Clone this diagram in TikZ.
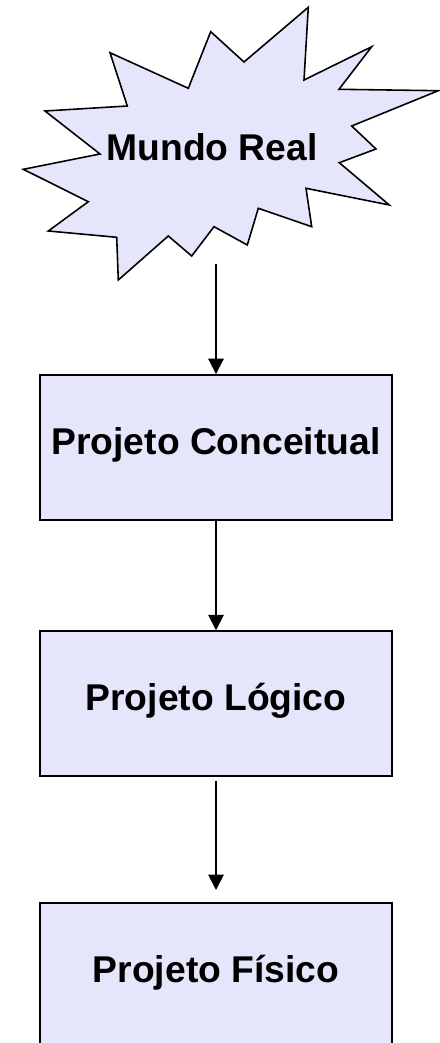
\documentclass[tikz,border=0pt]{standalone}
\usepackage{fontspec}
\setmainfont{Liberation Sans}
\usetikzlibrary{arrows.meta}
\definecolor{lilas}{RGB}{229,229,252}
\tikzset {
    etapa/.style = {
        draw, line width = 1.1pt, fill = lilas,
        minimum width = 7.05cm, minimum height = 2.9cm, inner sep = 0pt,
        font = \fontsize{21.2}{25}\selectfont\bfseries,
        text height = 0.75em, text depth = 0pt
    },
    explosao/.style = {draw, line width = 0.9pt, fill = lilas, line join = miter},
    rotulo/.style = {
        inner sep = 0pt,
        font = \fontsize{21.2}{25}\selectfont\bfseries,
        text height = 0.75em, text depth = 0pt
    },
    seta/.style = {
        line width = 1.1pt,
        arrows = {-Triangle[length = 0.31cm, width = 0.31cm]}
    }
}
\begin{document}
\begin{tikzpicture}[x = 0.02cm, y = -0.02cm]
    \useasboundingbox (0, 0) rectangle (439, 1043);
    % estrela
    \draw [explosao] (210.7, 31.7) -- (244, 62) -- (308.3, 7.3) -- (304, 80)
        -- (371.7, 46.7) -- (339, 89.3) -- (438.3, 90.7) -- (351.7, 126)
        -- (376, 149) -- (339.3, 162.7) -- (389.3, 205) -- (306, 188.3)
        -- (311.7, 226.7) -- (258.3, 208.3) -- (247.3, 245) -- (214, 226.7)
        -- (191.7, 256) -- (168.3, 236) -- (118.3, 280) -- (116.7, 237.3)
        -- (48.3, 231) -- (88.3, 201.7) -- (23.3, 169.3) -- (100, 154)
        -- (45, 111) -- (127.3, 106) -- (110, 52.7) -- (188.3, 88.3) -- cycle;
    \node (mundo) [rotulo] at (212, 154) {Mundo Real};
    \node (conceitual) [etapa] at (216, 447.5) {Projeto Conceitual};
    \node (logico) [etapa] at (216, 703.7) {Projeto Lógico};
    \node (fisico) [etapa] at (216, 975.8) {Projeto Físico};
    \coordinate (saida) at (216, 264);
    \coordinate (chegada) at (216, 890);
    \draw [seta] (saida) -- (conceitual.north);
    \draw [seta] (conceitual.south) -- (logico.north);
    \draw [seta] ([yshift = -2pt]logico.south) -- (chegada);
\end{tikzpicture}
\end{document}
